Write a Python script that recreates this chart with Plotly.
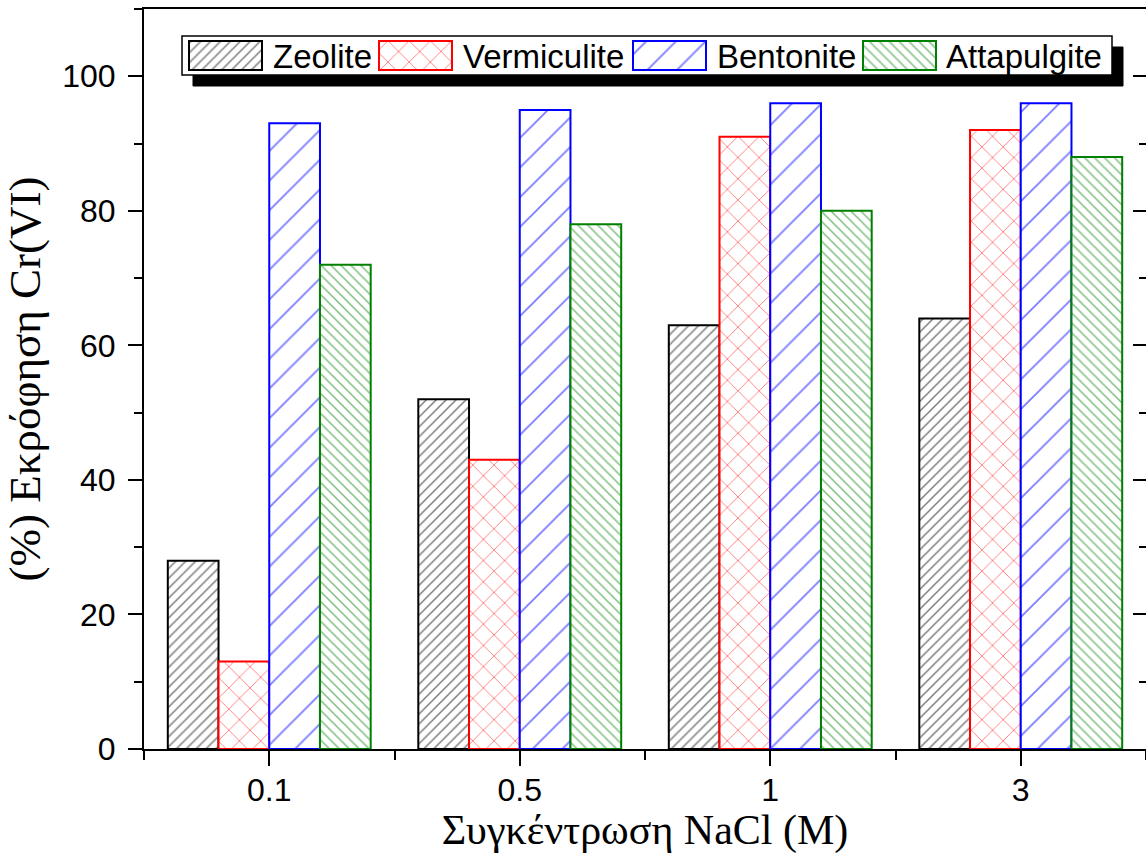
import plotly.graph_objects as go

# ---------------- data ----------------
categories = ["0.1", "0.5", "1", "3"]
series_names = ["Zeolite", "Vermiculite", "Bentonite", "Attapulgite"]
zeolite = [28, 52, 63, 64]
vermiculite = [13, 43, 91, 92]
bentonite = [93, 95, 96, 96]
attapulgite = [72, 78, 80, 88]
y_tick_values = [0, 20, 40, 60, 80, 100]
x_title = "Συγκέντρωση NaCl (M)"
y_title = "(%) Εκρόφηση Cr(VI)"

series_values = [zeolite, vermiculite, bentonite, attapulgite]

# ---------------- styles ----------------
colors = ["#000000", "#ff0000", "#0000ff", "#008000"]
pat_shapes = ["/", "x", "/", "\\"]
pat_sizes = [7, 15, 21, 7]
pat_solid = [0.22, 0.12, 0.09, 0.22]

W, H = 1146, 854
ML, MR, MT, MB = 144, 0, 9, 105
TICK_FONT = dict(family="Liberation Sans, Arial", size=32, color="black")
LEG_FONT = dict(family="Liberation Sans, Arial", size=33, color="black")
XTITLE_FONT = dict(family="Liberation Serif, Times New Roman", size=42, color="black")
YTITLE_FONT = dict(family="Liberation Serif, Times New Roman", size=45, color="black")

xpos = list(range(len(categories)))

fig = go.Figure()
for name, vals, c, sh, sz, so in zip(series_names, series_values, colors, pat_shapes, pat_sizes, pat_solid):
    fig.add_trace(go.Bar(
        name=name, x=xpos, y=vals, showlegend=False,
        marker=dict(color="white", line=dict(color=c, width=2),
                    pattern=dict(shape=sh, fgcolor=c, bgcolor="white", size=sz, solidity=so)),
    ))

# dummy trace to activate right-hand tick axis
fig.add_trace(go.Scatter(x=[0], y=[0], yaxis="y2", mode="markers",
                         marker=dict(opacity=0), showlegend=False, hoverinfo="skip"))

# ---------------- custom legend (pixel layout on an overlay axis) ----------------
leg_box = (182, 36, 1112, 75)
leg_shadow = 11
sw_left = [189, 379, 633, 863]
sw_w = 73
sw_top, sw_h = 41, 29
txt_left = [271, 461, 715, 944]
txt_y = 56

fig.add_trace(go.Bar(
    x=[l + sw_w / 2 for l in sw_left], y=[sw_h] * 4, base=[sw_top] * 4, width=[sw_w] * 4,
    xaxis="x3", yaxis="y3", showlegend=False, hoverinfo="skip",
    marker=dict(color="white", line=dict(color=colors, width=2),
                pattern=dict(shape=pat_shapes, fgcolor=colors, bgcolor="white",
                             size=pat_sizes, solidity=pat_solid)),
))

shapes = [
    dict(type="rect", xref="x3", yref="y3", layer="below",
         x0=leg_box[0] + leg_shadow, y0=leg_box[1] + leg_shadow,
         x1=leg_box[2] + leg_shadow, y1=leg_box[3] + leg_shadow,
         fillcolor="black", line=dict(color="black", width=1)),
    dict(type="rect", xref="x3", yref="y3", layer="below",
         x0=leg_box[0], y0=leg_box[1], x1=leg_box[2], y1=leg_box[3],
         fillcolor="white", line=dict(color="black", width=1.5)),
]
annotations = [
    dict(xref="x3", yref="y3", x=tx, y=txt_y, text=n, showarrow=False,
         xanchor="left", yanchor="middle", font=LEG_FONT)
    for tx, n in zip(txt_left, series_names)
]

fig.update_layout(
    width=W, height=H,
    margin=dict(l=ML, r=MR, t=MT, b=MB, pad=0),
    paper_bgcolor="white", plot_bgcolor="white",
    barmode="group", bargap=0.19, bargroupgap=0,
    showlegend=False,
    shapes=shapes, annotations=annotations,
    xaxis=dict(
        range=[-0.5, len(categories) - 0.5],
        tickmode="array", tickvals=xpos, ticktext=categories,
        ticks="outside", ticklen=15, tickwidth=2, tickcolor="black",
        minor=dict(tickmode="array", tickvals=[i - 0.5 for i in range(len(categories) + 1)],
                   ticks="outside", ticklen=9, tickwidth=2, tickcolor="black"),
        showline=True, linewidth=2, linecolor="black", mirror=True,
        showgrid=False, zeroline=False, tickfont=TICK_FONT, ticklabelstandoff=-3,
        title=dict(text=x_title, font=XTITLE_FONT, standoff=4),
        automargin=False, fixedrange=True,
    ),
    yaxis=dict(
        range=[0, 110], tickmode="array", tickvals=y_tick_values,
        ticks="outside", ticklen=14, tickwidth=2, tickcolor="black",
        minor=dict(dtick=10, tick0=0, ticks="outside", ticklen=8, tickwidth=2, tickcolor="black"),
        showline=True, linewidth=2, linecolor="black",
        showgrid=False, zeroline=False, tickfont=TICK_FONT, ticklabelstandoff=6,
        title=dict(text=y_title, font=YTITLE_FONT, standoff=8),
        automargin=False, fixedrange=True,
    ),
    yaxis2=dict(
        overlaying="y", side="right", anchor="x", range=[0, 110],
        tickmode="array", tickvals=y_tick_values,
        ticks="inside", ticklen=13, tickwidth=2, tickcolor="black",
        minor=dict(dtick=10, tick0=0, ticks="inside", ticklen=7, tickwidth=2, tickcolor="black"),
        showticklabels=False, showline=False, showgrid=False, zeroline=False,
        fixedrange=True,
    ),
    xaxis3=dict(overlaying="x", anchor="y3", range=[ML, W - MR], visible=False, fixedrange=True),
    yaxis3=dict(overlaying="y", anchor="x3", range=[H - MB, MT], visible=False, fixedrange=True),
)

fig.write_html(
    "out.html",
    config={"displayModeBar": False},
    post_script="document.body.style.margin='0';document.body.style.overflow='hidden';",
)
